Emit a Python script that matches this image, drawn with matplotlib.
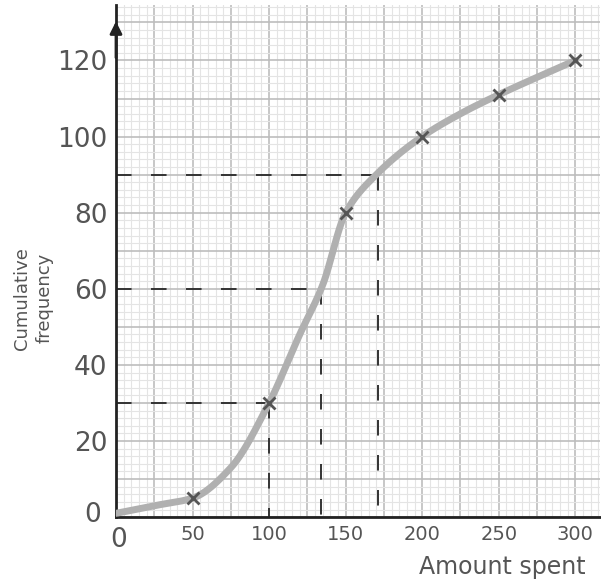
import numpy as np
import matplotlib
matplotlib.use("Agg")
import matplotlib.pyplot as plt

# Data
plotted_x = [50, 100, 150, 200, 250, 300]
plotted_y = [5, 30, 80, 100, 111, 120]
curve_x = [0, 25, 50, 75, 100, 120, 135, 150, 170, 200, 225, 250, 300]
curve_y = [1, 3, 5, 13, 30, 48, 61, 80, 90, 100, 106, 111, 120]
read_y = [30, 60, 90]
read_x = [100, 134, 171]
y_ticks = [20, 40, 60, 80, 100, 120]
x_ticks = [50, 100, 150, 200, 250, 300]


def pchip(x, y, xs):
    x = np.asarray(x, float); y = np.asarray(y, float)
    h = np.diff(x); d = np.diff(y) / h
    m = np.zeros_like(y)
    for k in range(1, len(x) - 1):
        if d[k - 1] * d[k] > 0:
            w1 = 2 * h[k] + h[k - 1]; w2 = h[k] + 2 * h[k - 1]
            m[k] = (w1 + w2) / (w1 / d[k - 1] + w2 / d[k])
    m[0] = d[0]; m[-1] = d[-1]
    idx = np.clip(np.searchsorted(x, xs) - 1, 0, len(x) - 2)
    t = (xs - x[idx]) / h[idx]
    h00 = 2 * t**3 - 3 * t**2 + 1; h10 = t**3 - 2 * t**2 + t
    h01 = -2 * t**3 + 3 * t**2; h11 = t**3 - t**2
    return h00 * y[idx] + h10 * h[idx] * m[idx] + h01 * y[idx + 1] + h11 * h[idx] * m[idx + 1]


fig = plt.figure(figsize=(6.01, 5.85), dpi=100)
ax = fig.add_axes([0.193, 0.116, 0.805, 0.875])
xmin, xmax, ymin, ymax = 0, 316, 0, 134.5
ax.set_xlim(xmin, xmax); ax.set_ylim(ymin, ymax)

# graph paper
for v in np.arange(0, xmax, 5):
    major = (v % 25 == 0)
    ax.axvline(v, color='#bdbdbd' if major else '#e4e4e4', lw=1.2 if major else 0.8, zorder=0)
for v in np.arange(0, ymax, 2):
    major = (v % 10 == 0)
    ax.axhline(v, color='#bdbdbd' if major else '#e4e4e4', lw=1.2 if major else 0.8, zorder=0)

# curve
xs = np.linspace(curve_x[0], curve_x[-1], 600)
ax.plot(xs, pchip(curve_x, curve_y, xs), color='#b0b0b0', lw=5, solid_capstyle='round', zorder=3)
ax.plot(plotted_x, plotted_y, 'x', color='#555555', ms=8, mew=2, zorder=4)

# reading lines
for rx, ry in zip(read_x, read_y):
    ax.plot([0, rx], [ry, ry], color='#333333', lw=1.4, dashes=(8, 10), zorder=2)
    ax.plot([rx, rx], [ry, 0], color='#333333', lw=1.4, dashes=(8, 10), zorder=2)

for s in ['top', 'right']:
    ax.spines[s].set_visible(False)
for s in ['left', 'bottom']:
    ax.spines[s].set_color('#222222'); ax.spines[s].set_linewidth(2)
ax.annotate('', xy=(0, 131), xytext=(0, 120),
            arrowprops=dict(arrowstyle='-|>', color='#222222', lw=2, mutation_scale=18), zorder=5, annotation_clip=False)

ax.set_yticks(y_ticks)
ax.set_yticklabels([str(v) for v in y_ticks], fontsize=19, color='#555555')
ax.set_xticks(x_ticks)
ax.set_xticklabels([str(v) for v in x_ticks], fontsize=14, color='#555555')
ax.tick_params(length=0, pad=6)
ax.text(-10, 0.5, '0', fontsize=19, color='#555555', ha='right', va='center')
ax.text(2, -2.5, '0', fontsize=19, color='#555555', ha='center', va='top')

ax.text(306.5, -13, 'Amount spent', fontsize=17, color='#555555', ha='right', va='center')
fig.text(0.055, 0.49, 'Cumulative\nfrequency', rotation=90, fontsize=13, color='#555555',
         ha='center', va='center', linespacing=1.3)

fig.savefig('out.png', dpi=100)
